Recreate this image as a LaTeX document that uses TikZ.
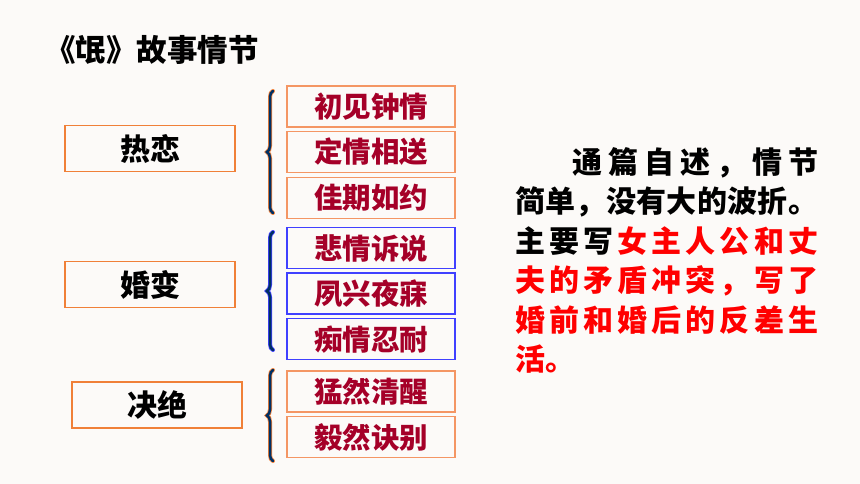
\documentclass[tikz,border=0pt]{standalone}
\usepackage{fontspec}
\setmainfont{Noto Sans CJK SC}
\usetikzlibrary{positioning,decorations.pathreplacing,calc}
\definecolor{bgcol}{RGB}{252,250,248}
\definecolor{boxorange}{RGB}{240,128,56}
\definecolor{eventorange}{RGB}{244,150,100}
\definecolor{subred}{RGB}{165,0,40}
\definecolor{linkblue}{RGB}{64,64,255}
\definecolor{bracenavy}{RGB}{0,48,100}
\definecolor{textred}{RGB}{255,0,0}

\begin{document}
\begin{tikzpicture}[x=1pt,y=-1pt,
    node distance=3.3pt,
    stage/.style={rectangle,draw=boxorange,line width=1.3pt,minimum width=170pt,minimum height=46pt,inner sep=0pt,font=\bfseries\fontsize{30}{30}\selectfont},
    event/.style={rectangle,draw=eventorange,line width=1.3pt,minimum width=168pt,minimum height=41pt,inner sep=0pt,text=subred,font=\bfseries\fontsize{28.5}{28.5}\selectfont},
    eventblue/.style={event,draw=linkblue},
    curly/.style={decorate,decoration={brace,amplitude=6pt},line cap=round}
]

\fill[bgcol] (0,0) rectangle (860,484);

\node[anchor=west,inner sep=0pt,font=\bfseries\fontsize{30.5}{30.5}\selectfont] (title) at (45,50) {《氓》故事情节};

% stages
\node[stage] (reLian) at (150,148.5) {热恋};
\node[stage] (hunBian) at (150,284.5) {婚变};
\node[stage] (jueJue) at (157,405) {决绝};

% events
\node[event] (ev1) at (371,106.5) {初见钟情};
\node[event,below=of ev1] (ev2) {定情相送};
\node[event,below=of ev2] (ev3) {佳期如约};

\node[eventblue] (ev4) at (371,248) {悲情诉说};
\node[eventblue,below=of ev4] (ev5) {夙兴夜寐};
\node[eventblue,below=of ev5] (ev6) {痴情忍耐};

\node[event] (ev7) at (371,391.5) {猛然清醒};
\node[event,below=of ev7] (ev8) {毅然诀别};

% braces
\coordinate (br1a) at (273,213);
\coordinate (br1b) at (273,91);
\coordinate (br2a) at (273,350);
\coordinate (br2b) at (273,232);
\coordinate (br3a) at (273,461);
\coordinate (br3b) at (273,370);

\draw[curly,draw=boxorange,line width=4pt] (br1a) -- (br1b);
\draw[curly,draw=bracenavy,line width=2.5pt] (br1a) -- (br1b);
\draw[curly,draw=linkblue,line width=4pt] (br2a) -- (br2b);
\draw[curly,draw=bracenavy,line width=2.5pt] (br2a) -- (br2b);
\draw[curly,draw=boxorange,line width=4pt] (br3a) -- (br3b);
\draw[curly,draw=bracenavy,line width=2.5pt] (br3a) -- (br3b);

% summary
\node[anchor=north west,inner sep=0pt,align=left,font=\bfseries\fontsize{30}{39.5}\selectfont] (summary) at (515,147)
  {\hspace*{57pt}\makebox[246pt][s]{通\hfill 篇\hfill 自\hfill 述\hfill ，\hfill 情\hfill 节}\\
   \makebox[303pt][s]{简\hfill 单\hfill ，\hfill 没\hfill 有\hfill 大\hfill 的\hfill 波\hfill 折\hfill 。}\\
   \makebox[303pt][s]{主\hfill 要\hfill 写\hfill \textcolor{textred}{女}\hfill \textcolor{textred}{主}\hfill \textcolor{textred}{人}\hfill \textcolor{textred}{公}\hfill \textcolor{textred}{和}\hfill \textcolor{textred}{丈}}\\
   \color{textred}\makebox[303pt][s]{夫\hfill 的\hfill 矛\hfill 盾\hfill 冲\hfill 突\hfill ，\hfill 写\hfill 了}\\
   \color{textred}\makebox[303pt][s]{婚\hfill 前\hfill 和\hfill 婚\hfill 后\hfill 的\hfill 反\hfill 差\hfill 生}\\
   \color{textred}活。};

\end{tikzpicture}
\end{document}
